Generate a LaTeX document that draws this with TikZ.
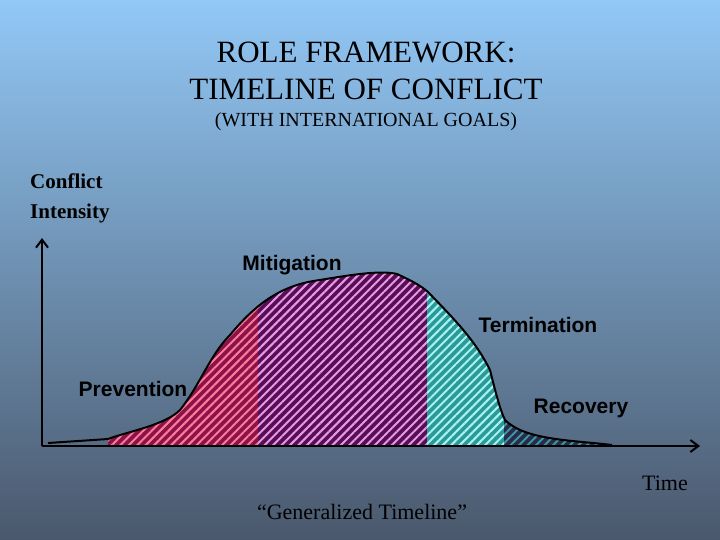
\documentclass[tikz,border=0pt]{standalone}
\usepackage{fontspec}
\setmainfont{Liberation Serif}
\setsansfont{Liberation Sans}
\usetikzlibrary{patterns.meta,arrows.meta}
\definecolor{bgtop}{HTML}{92C8F6}
\definecolor{bgbot}{HTML}{4A586C}
\definecolor{pinkbase}{HTML}{8A1448}
\definecolor{pinkline}{HTML}{FF7A9A}
\definecolor{purpbase}{HTML}{5A0E52}
\definecolor{purpline}{HTML}{E49AEC}
\definecolor{cyanbase}{HTML}{2A9A98}
\definecolor{cyanline}{HTML}{A8F2F2}
\definecolor{recbase}{HTML}{2A2A50}
\definecolor{recline}{HTML}{3A9A9A}
\tikzset{
  lbl/.style={font=\sffamily\bfseries\fontsize{21}{24}\selectfont},
  hatch/.style 2 args={fill=#1, postaction={pattern={Lines[angle=45,distance=6pt,line width=2pt]}, pattern color=#2}},
  axis/.style={line width=2pt,-{Straight Barb[length=8pt,width=12pt]}}
}
\begin{document}
\begin{tikzpicture}[x=1pt,y=-1pt]
\useasboundingbox (0,0) rectangle (720,540);
\shade[top color=bgtop,bottom color=bgbot] (0,0) rectangle (720,540);
\def\curve{(108,445) -- (108,439) .. controls (130,431) and (165,425) .. (180,410)
  .. controls (200,385) and (210,355) .. (230,335)
  .. controls (255,305) and (280,285) .. (320,280)
  .. controls (350,275) and (380,270) .. (397,274)
  .. controls (410,280) and (420,285) .. (428,292)
  .. controls (455,320) and (475,340) .. (490,370)
  .. controls (495,390) and (500,410) .. (505,420)
  .. controls (525,440) and (570,440) .. (612,445) -- cycle}
\begin{scope}
\clip \curve;
\path[hatch={pinkbase}{pinkline}] (100,250) rectangle (258,446);
\path[hatch={purpbase}{purpline}] (258,250) rectangle (427,446);
\path[hatch={cyanbase}{cyanline}] (427,250) rectangle (504,446);
\path[hatch={recbase}{recline}] (504,250) rectangle (620,446);
\end{scope}
\draw[line width=2pt,line join=round] (48,443) -- (108,439) .. controls (130,431) and (165,425) .. (180,410)
  .. controls (200,385) and (210,355) .. (230,335)
  .. controls (255,305) and (280,285) .. (320,280)
  .. controls (350,275) and (380,270) .. (397,274)
  .. controls (410,280) and (420,285) .. (428,292)
  .. controls (455,320) and (475,340) .. (490,370)
  .. controls (495,390) and (500,410) .. (505,420)
  .. controls (525,440) and (570,440) .. (612,445);
\coordinate (o) at (42,446);
\coordinate (ytop) at (42,238);
\coordinate (xend) at (700,446);
\draw[axis] (o) -- (ytop);
\draw[axis] (o) -- (xend);
\node (t1) at (366,52) {\fontsize{31}{36}\selectfont ROLE FRAMEWORK:};
\node (t2) at (366,89) {\fontsize{31}{36}\selectfont TIMELINE OF CONFLICT};
\node (t3) at (366,122) {\fontsize{20}{24}\selectfont (WITH INTERNATIONAL GOALS)};
\node[align=left,anchor=north west,inner sep=0pt,font=\bfseries\fontsize{21}{30}\selectfont] (yl) at (30,174) {Conflict\\Intensity};
\node[lbl] (mit) at (292,265) {Mitigation};
\node[lbl] (ter) at (538,325) {Termination};
\node[lbl] (pre) at (133,389) {Prevention};
\node[lbl] (rec) at (581,408) {Recovery};
\node (time) at (665,483) {\fontsize{22}{26}\selectfont Time};
\node (gen) at (362,512) {\fontsize{22}{26}\selectfont “Generalized Timeline”};
\end{tikzpicture}
\end{document}
